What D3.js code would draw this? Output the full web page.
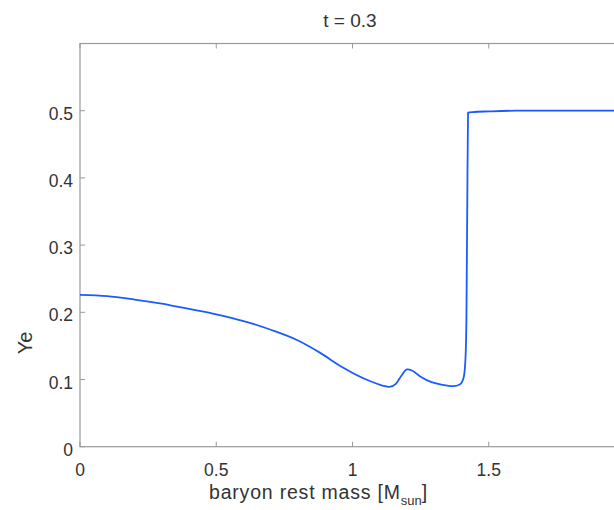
<!DOCTYPE html>
<html lang="en">
<head>
  <meta charset="UTF-8">
  <title>Ye vs baryon rest mass, t = 0.3</title>
  <script src="https://d3js.org/d3.v7.min.js"></script>
</head>

<body style="margin:0; background:#fff;">

<style>
  svg { display: block; overflow: hidden; }
  text { font-family: "Liberation Sans", Helvetica, Arial, sans-serif; fill: #333; }
</style>

<div id="chart"></div>

<script>

// values
var mass = [0, 0.1, 0.2, 0.3, 0.4, 0.5, 0.6, 0.7, 0.8, 0.88, 0.96, 1.05, 1.11, 1.135,
            1.16, 1.18, 1.2, 1.22, 1.25, 1.29, 1.33, 1.37, 1.395, 1.408, 1.415, 1.418,
            1.421, 1.424, 1.44, 1.5, 1.6, 1.8, 2.0];
var ye   = [0.226, 0.224, 0.219, 0.213, 0.205, 0.197, 0.187, 0.174, 0.158, 0.140, 0.119,
            0.100, 0.091, 0.089, 0.094, 0.106, 0.115, 0.113, 0.104, 0.096, 0.092, 0.090,
            0.093, 0.103, 0.135, 0.19, 0.35, 0.497, 0.498, 0.499, 0.5, 0.5, 0.5];
var xTicks = [0, 0.5, 1, 1.5];
var yTicks = [0, 0.1, 0.2, 0.3, 0.4, 0.5];

var margin = {top: 43.5, left: 80};
var width = 545, height = 403.2;

var svg = d3.select('#chart').append('svg')
  .attr("width", 614)
  .attr("height", 510);

var x = d3.scaleLinear().domain([0, 2]).range([margin.left, margin.left + width]);
var y = d3.scaleLinear().domain([0, 0.6]).range([margin.top + height, margin.top]);

var data = mass.map((m, i) => ({m: m, ye: ye[i]}));

// box
svg.append("rect")
  .attr("x", x(0)).attr("y", y(0.6))
  .attr("width", x(2) - x(0)).attr("height", y(0) - y(0.6))
  .attr("fill", "none").attr("stroke", "#999").attr("stroke-width", 1.2);

// ticks pointing inward, matlab style
var tl = 5;
var xt = svg.append("g");
xTicks.forEach(function(t) {
  xt.append("line").attr("x1", x(t)).attr("x2", x(t))
    .attr("y1", y(0)).attr("y2", y(0) - tl).attr("stroke", "#999");
  xt.append("line").attr("x1", x(t)).attr("x2", x(t))
    .attr("y1", y(0.6)).attr("y2", y(0.6) + tl).attr("stroke", "#999");
  xt.append("text").attr("x", x(t)).attr("y", y(0) + 29)
    .attr("text-anchor", "middle").attr("font-size", 17.5)
    .text(d3.format("")(t));
});
var yt = svg.append("g");
yTicks.forEach(function(t) {
  yt.append("line").attr("x1", x(0)).attr("x2", x(0) + tl)
    .attr("y1", y(t)).attr("y2", y(t)).attr("stroke", "#999");
  yt.append("text").attr("x", x(0) - 7).attr("y", y(t) + 9)
    .attr("text-anchor", "end").attr("font-size", 17.5)
    .text(d3.format("")(t));
});

var line = d3.line()
  .curve(d3.curveMonotoneX)
  .x(d => x(d.m))
  .y(d => y(d.ye));

svg.append("path")
  .datum(data)
  .attr("fill", "none")
  .attr("stroke", "#1a5cff")
  .attr("stroke-width", 1.8)
  .attr("stroke-linejoin", "round")
  .attr("d", line);

// title and labels
svg.append("text").attr("x", 350).attr("y", 27)
  .attr("text-anchor", "middle").attr("font-size", 19).text("t = 0.3");

var xl = svg.append("text").attr("x", 209).attr("y", 498.5).attr("font-size", 19.5);
xl.append("tspan").attr("textLength", 191).text("baryon rest mass [M");
xl.append("tspan").attr("dy", 6).attr("font-size", 13).text("sun");
xl.append("tspan").attr("dy", -6).text("]");

svg.append("text")
  .attr("transform", "translate(32,343) rotate(-90)")
  .attr("text-anchor", "middle").attr("font-size", 20).text("Ye");

</script>

</body>
</html>
